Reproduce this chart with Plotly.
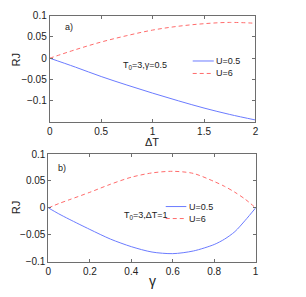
import plotly.graph_objects as go

# ---- data ----
dT = [0, 0.25, 0.5, 0.75, 1.0, 1.25, 1.5, 1.75, 2.0]
rj_a_u05 = [0, -0.021, -0.043, -0.063, -0.082, -0.100, -0.117, -0.132, -0.145]
rj_a_u6 = [0, 0.020, 0.038, 0.053, 0.066, 0.075, 0.081, 0.084, 0.082]

gam = [0, 0.05, 0.1, 0.2, 0.3, 0.4, 0.5, 0.6, 0.7, 0.8, 0.85, 0.9, 0.95, 1.0]
rj_b_u05 = [0, -0.011, -0.021, -0.040, -0.058, -0.072, -0.082, -0.085, -0.080, -0.068, -0.058, -0.044, -0.023, 0]
rj_b_u6 = [0, 0.008, 0.015, 0.029, 0.044, 0.057, 0.065, 0.068, 0.064, 0.049, 0.040, 0.029, 0.016, 0]

xticks_a = [0, 0.5, 1, 1.5, 2]
xticks_b = [0, 0.2, 0.4, 0.6, 0.8, 1]
yticks = [-0.1, -0.05, 0, 0.05, 0.1]
legend_labels = ["U=0.5", "U=6"]

W, H = 306, 297
BLUE = "#6b7bff"
RED = "#ff6b6b"
FONT = "Liberation Sans, Arial, sans-serif"

def px_x(v):
    return v / W

def px_y(v):
    return 1 - v / H

fig = go.Figure()
fig.add_trace(go.Scatter(x=dT, y=rj_a_u05, mode="lines", line=dict(color=BLUE, width=1, shape="spline"),
                         xaxis="x", yaxis="y", showlegend=False))
fig.add_trace(go.Scatter(x=dT, y=rj_a_u6, mode="lines", line=dict(color=RED, width=1, dash="4px,3px", shape="spline"),
                         xaxis="x", yaxis="y", showlegend=False))
fig.add_trace(go.Scatter(x=gam, y=rj_b_u05, mode="lines", line=dict(color=BLUE, width=1, shape="spline", smoothing=0.8),
                         xaxis="x2", yaxis="y2", showlegend=False))
fig.add_trace(go.Scatter(x=gam, y=rj_b_u6, mode="lines", line=dict(color=RED, width=1, dash="4px,3px", shape="spline", smoothing=0.8),
                         xaxis="x2", yaxis="y2", showlegend=False))

axis_common = dict(showgrid=False, zeroline=False, showline=True, linecolor="#6e6e6e", linewidth=1,
                   mirror="ticks", ticks="inside", ticklen=3, tickcolor="#6e6e6e",
                   tickfont=dict(family=FONT, size=10, color="#222"))

fig.update_layout(
    width=W, height=H,
    margin=dict(l=0, r=0, t=0, b=0),
    paper_bgcolor="white", plot_bgcolor="white",
    font=dict(family=FONT, color="#222"),
    xaxis=dict(domain=[px_x(47.7), px_x(257.5)], range=[0, 2], tickvals=xticks_a,
               ticktext=[f"{v:g}" for v in xticks_a], anchor="y", **axis_common),
    yaxis=dict(domain=[px_y(121), px_y(10)], range=[-0.15, 0.1], tickvals=yticks,
               ticktext=[f"{v:g}".replace("-", "\u2212") for v in yticks], anchor="x", **axis_common),
    xaxis2=dict(domain=[px_x(46.3), px_x(257.7)], range=[0, 1], tickvals=xticks_b,
                ticktext=[f"{v:g}" for v in xticks_b], anchor="y2", **axis_common),
    yaxis2=dict(domain=[px_y(266.5), px_y(154.3)], range=[-0.1, 0.1], tickvals=yticks,
                ticktext=[f"{v:g}".replace("-", "\u2212") for v in yticks], anchor="x2", **axis_common),
)

def ann(x, y, text, size=10, xanchor="center", textangle=0, yanchor="middle"):
    fig.add_annotation(x=px_x(x), y=px_y(y), xref="paper", yref="paper", text=text, showarrow=False,
                       xanchor=xanchor, yanchor=yanchor, textangle=textangle, borderpad=0,
                       font=dict(family=FONT, size=size, color="#222"))

# axis titles
ann(13, 56, "RJ", size=11, textangle=-90)
ann(13, 210, "RJ", size=11, textangle=-90)
ann(152, 134.5, "\u0394T", size=11, yanchor="top")
ann(152, 287, "\u03b3", size=14)

# panel labels
ann(62, 22, "a)", size=9, xanchor="left")
ann(55, 169, "b)", size=9, xanchor="left")

# parameter texts
ann(121, 62, "T<sub>0</sub>=3,\u03b3=0.5", size=9, xanchor="left")
ann(122, 218.5, "T<sub>0</sub>=3,\u0394T=1", size=9, xanchor="left")

# legends (drawn)
def legend(x0, x1, y_first, y_second, tx):
    fig.add_shape(type="line", xref="paper", yref="paper", x0=px_x(x0), x1=px_x(x1),
                  y0=px_y(y_first), y1=px_y(y_first), line=dict(color=BLUE, width=1))
    fig.add_shape(type="line", xref="paper", yref="paper", x0=px_x(x0), x1=px_x(x1),
                  y0=px_y(y_second), y1=px_y(y_second), line=dict(color=RED, width=1, dash="4px,3px"))
    ann(tx, y_first, legend_labels[0], size=9, xanchor="left")
    ann(tx, y_second, legend_labels[1], size=9, xanchor="left")

legend(193.5, 215, 57.3, 70.3, 216.5)
legend(166, 187, 209, 221.5, 189)

fig.write_html("out.html", config={"displayModeBar": False},
               post_script="document.body.style.margin='0';document.body.style.padding='0';"
                           "document.documentElement.style.overflow='hidden';")
